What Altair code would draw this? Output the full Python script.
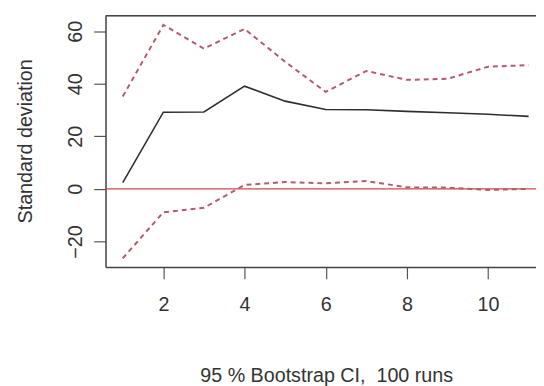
import altair as alt
import pandas as pd

# Data
steps = [1, 2, 3, 4, 5, 6, 7, 8, 9, 10, 11]
irf = [2.4, 29.2, 29.3, 39.1, 33.4, 30.2, 30.1, 29.5, 29.0, 28.4, 27.6]
upper = [35.2, 62.4, 53.4, 60.9, 48.4, 36.9, 44.9, 41.5, 41.9, 46.5, 47.1]
lower = [-26.4, -8.9, -7.2, 1.5, 2.6, 2.1, 3.0, 0.6, 0.5, -0.4, 0.0]
x_ticks = [2, 4, 6, 8, 10]
y_ticks = [-20, 0, 20, 40, 60]
y_title = "Standard deviation"
x_title = "95 % Bootstrap CI,\u00a0 100 runs"

df = pd.DataFrame({"step": steps, "irf": irf, "upper": upper, "lower": lower})
zero_df = pd.DataFrame({"y": [0]})
top_df = pd.DataFrame({"k": [0]})

FONT = "Liberation Sans"
FS = 20
W, H = 437, 255

xscale = alt.Scale(domain=[0.575, 11.182], nice=False, zero=False)
yscale = alt.Scale(domain=[-29.7, 65.9], nice=False, zero=False)

x_axis = alt.Axis(
    values=x_ticks, tickSize=12, tickColor="#555", tickWidth=1.2,
    domainColor="#444", domainWidth=1.5, grid=False,
    labelFont=FONT, labelFontSize=FS, labelColor="#333", labelPadding=16,
    title=x_title, titleFont=FONT, titleFontSize=FS, titleFontWeight="normal",
    titleColor="#333", titleX=224, titleY=116, titleBaseline="alphabetic",
    titleAlign="center", titleAnchor="start",
)
y_axis = alt.Axis(
    values=y_ticks, tickSize=12, tickColor="#555", tickWidth=1.2,
    domainColor="#444", domainWidth=1.5, grid=False,
    labelFont=FONT, labelFontSize=FS, labelColor="#333", labelPadding=12,
    labelAngle=-90, labelAlign="center", labelBaseline="alphabetic",
    title=y_title, titleFont=FONT, titleFontSize=FS, titleFontWeight="normal",
    titleColor="#333", titleX=-75, titleY=127, titleAngle=270,
    titleBaseline="alphabetic", titleAlign="center", titleAnchor="start",
)

base = alt.Chart(df)

irf_line = base.mark_line(color="#2e2e2e", strokeWidth=1.6, clip=True).encode(
    x=alt.X("step:Q", scale=xscale, axis=x_axis),
    y=alt.Y("irf:Q", scale=yscale, axis=y_axis),
)
up_line = base.mark_line(color="#b45c6a", strokeWidth=2, strokeDash=[5, 4], clip=True).encode(
    x="step:Q", y="upper:Q"
)
lo_line = base.mark_line(color="#b45c6a", strokeWidth=2, strokeDash=[5, 4], clip=True).encode(
    x="step:Q", y="lower:Q"
)
zero_line = alt.Chart(zero_df).mark_rule(color="#d04848", strokeWidth=1.2).encode(
    y="y:Q"
)
top_border = alt.Chart(top_df).mark_rule(color="#444", strokeWidth=1.5).encode(
    y=alt.value(0)
)

chart = alt.layer(zero_line, up_line, lo_line, irf_line, top_border).properties(
    width=W, height=H,
    autosize=alt.AutoSizeParams(type="none"),
    padding={"left": 99, "top": 5, "right": 0, "bottom": 118},
).configure_view(stroke=None).configure(background="white")

chart.save("out.html", embed_options={"renderer": "svg", "actions": False})
